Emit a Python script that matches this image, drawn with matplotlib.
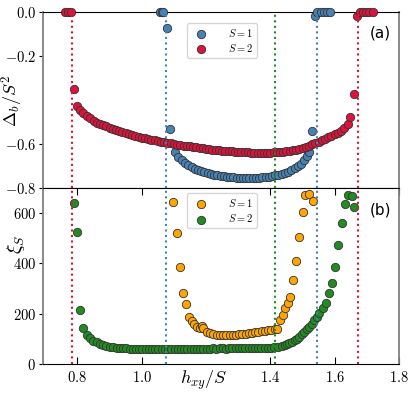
import matplotlib
matplotlib.use("Agg")
import matplotlib.pyplot as plt

plt.rcParams["mathtext.fontset"] = "cm"

# panel (a): Delta_b / S^2
h_a1 = [1.057, 1.062, 1.067, 1.080, 1.088, 1.104, 1.114, 1.125, 1.135, 1.145,
        1.155, 1.165, 1.175, 1.185, 1.195, 1.205, 1.215, 1.225, 1.235, 1.245,
        1.255, 1.265, 1.275, 1.285, 1.295, 1.305, 1.315, 1.325, 1.335, 1.345,
        1.355, 1.365, 1.375, 1.385, 1.395, 1.405, 1.415, 1.425, 1.435, 1.445,
        1.455, 1.465, 1.475, 1.485, 1.495, 1.505, 1.514, 1.521, 1.530, 1.540,
        1.546, 1.556, 1.566, 1.576, 1.586]
d_a1 = [0.0, 0.0, 0.0, -0.074, -0.533, -0.635, -0.657, -0.673, -0.686, -0.696,
        -0.705, -0.712, -0.718, -0.723, -0.727, -0.731, -0.735, -0.739, -0.742, -0.745,
        -0.747, -0.749, -0.751, -0.752, -0.753, -0.754, -0.755, -0.756, -0.756, -0.756,
        -0.755, -0.754, -0.752, -0.750, -0.748, -0.746, -0.743, -0.740, -0.736, -0.731,
        -0.725, -0.718, -0.710, -0.701, -0.689, -0.674, -0.656, -0.636, -0.540, -0.017,
        0.0, 0.0, 0.0, 0.0, 0.0]

h_a2 = [0.761, 0.771, 0.779, 0.789, 0.799, 0.808, 0.818, 0.829,
        0.84, 0.85, 0.86, 0.87, 0.88, 0.89, 0.90, 0.91, 0.92, 0.93,
        0.94, 0.95, 0.96, 0.97, 0.98, 0.99, 1.00, 1.01, 1.02, 1.03,
        1.04, 1.05, 1.06, 1.07, 1.08, 1.09, 1.10, 1.11, 1.12, 1.13,
        1.14, 1.15, 1.16, 1.17, 1.18, 1.19, 1.20, 1.21, 1.22, 1.23,
        1.24, 1.25, 1.26, 1.27, 1.28, 1.29, 1.30, 1.31, 1.32, 1.33,
        1.34, 1.35, 1.36, 1.37, 1.38, 1.39, 1.40, 1.41, 1.42, 1.43,
        1.44, 1.45, 1.46, 1.47, 1.48, 1.49, 1.50, 1.51, 1.52, 1.53,
        1.54, 1.55, 1.56, 1.57, 1.58, 1.59, 1.60, 1.61, 1.62, 1.63,
        1.64, 1.649, 1.659, 1.670, 1.678, 1.688, 1.698, 1.708, 1.718]
d_a2 = [0.0, 0.0, 0.0, -0.350, -0.427, -0.445, -0.460, -0.473,
        -0.484, -0.494, -0.503, -0.509, -0.515, -0.520, -0.525, -0.530, -0.535, -0.540,
        -0.545, -0.550, -0.554, -0.559, -0.563, -0.567, -0.571, -0.574, -0.577, -0.580,
        -0.583, -0.586, -0.589, -0.592, -0.595, -0.597, -0.600, -0.603, -0.605, -0.607,
        -0.609, -0.611, -0.613, -0.615, -0.617, -0.619, -0.621, -0.623, -0.625, -0.627,
        -0.628, -0.630, -0.631, -0.633, -0.634, -0.635, -0.636, -0.637, -0.638, -0.638,
        -0.639, -0.639, -0.640, -0.640, -0.640, -0.639, -0.639, -0.638, -0.637, -0.636,
        -0.635, -0.634, -0.632, -0.629, -0.626, -0.622, -0.617, -0.612, -0.607, -0.602,
        -0.596, -0.590, -0.584, -0.577, -0.570, -0.563, -0.556, -0.549, -0.541, -0.528,
        -0.508, -0.479, -0.374, -0.018, 0.0, 0.0, 0.0, 0.0, 0.0]

# panel (b): xi_S
h_b1 = [1.098, 1.110, 1.120, 1.128, 1.138, 1.148, 1.156, 1.164, 1.171, 1.180,
        1.187, 1.192, 1.202, 1.213, 1.223, 1.233, 1.243, 1.253, 1.263, 1.273,
        1.283, 1.293, 1.303, 1.313, 1.323, 1.333, 1.343, 1.353, 1.363, 1.373,
        1.383, 1.393, 1.403, 1.413, 1.422, 1.431, 1.438, 1.446, 1.454, 1.460,
        1.469, 1.480, 1.490, 1.500, 1.509, 1.519, 1.531]
xi_1 = [644, 522, 387, 284, 237, 188, 172, 159, 148, 145,
        152, 142, 128, 122, 119, 117, 116, 115, 115, 116,
        116, 117, 118, 119, 120, 122, 124, 126, 128, 130,
        133, 135, 137, 140, 138, 175, 195, 221, 241, 268,
        334, 411, 504, 606, 672, 676, 650]

h_b2 = [0.789, 0.798, 0.808, 0.818, 0.829, 0.839, 0.849, 0.860, 0.870, 0.880,
        0.890, 0.901, 0.911, 0.922, 0.932, 0.942, 0.952, 0.962, 0.972, 0.982,
        0.992, 1.002, 1.012, 1.022, 1.032, 1.042, 1.052, 1.062, 1.072, 1.082,
        1.092, 1.102, 1.112, 1.122, 1.132, 1.142, 1.152, 1.162, 1.172, 1.182,
        1.192, 1.202, 1.212, 1.222, 1.232, 1.242, 1.252, 1.262, 1.272, 1.282,
        1.292, 1.302, 1.312, 1.322, 1.332, 1.342, 1.352, 1.362, 1.372, 1.382,
        1.392, 1.402, 1.412, 1.425, 1.435, 1.444, 1.452, 1.459, 1.467, 1.475,
        1.482, 1.490, 1.498, 1.506, 1.514, 1.521, 1.529, 1.537, 1.545, 1.552,
        1.563, 1.573, 1.581, 1.592, 1.602, 1.609, 1.623, 1.632, 1.640, 1.653,
        1.661]
xi_2 = [641, 526, 215, 144, 115, 102, 93, 86, 80, 75,
        72, 69, 67, 65, 64, 63, 62, 61, 61, 60,
        60, 60, 59, 59, 59, 59, 59, 59, 60, 59,
        60, 60, 59, 60, 60, 61, 60, 61, 60, 61,
        61, 60, 61, 62, 61, 62, 62, 61, 62, 63,
        62, 63, 63, 62, 63, 64, 63, 64, 64, 63,
        64, 65, 66, 69, 72, 76, 79, 82, 88, 95,
        101, 109, 118, 128, 138, 148, 160, 175, 188, 202,
        221, 244, 281, 323, 387, 473, 562, 636, 672, 669,
        626]

# critical fields (dotted lines)
h_crit = [0.782, 1.076, 1.414, 1.545, 1.673]
c_crit = ["crimson", "steelblue", "forestgreen", "steelblue", "crimson"]

fig = plt.figure(figsize=(4.16, 3.97), dpi=100)
ax1 = fig.add_axes([0.1034, 0.5264, 0.8558, 0.4434])
ax2 = fig.add_axes([0.1034, 0.0831, 0.8558, 0.4433])

mk = dict(s=36, edgecolors="#333333", linewidths=0.6, zorder=3)
ax1.scatter(h_a1, d_a1, color="#4682b4", label=r"$S = 1$", clip_on=False, **mk)
ax1.scatter(h_a2, d_a2, color="crimson", label=r"$S = 2$", clip_on=False, **mk)
ax2.scatter(h_b1, xi_1, color="orange", label=r"$S = 1$", **mk)
ax2.scatter(h_b2, xi_2, color="forestgreen", label=r"$S = 2$", **mk)

for ax in (ax1, ax2):
    for h, c in zip(h_crit, c_crit):
        ax.axvline(h, color=c, ls=":", lw=1.5, zorder=4)
    ax.set_xlim(0.693, 1.8)
    ax.spines["left"].set_color("gray")
    ax.spines["right"].set_color("gray")
    ax.spines["left"].set_linewidth(1.3)
    ax.spines["right"].set_linewidth(1.3)
    ax.tick_params(axis="y", direction="out", length=3, pad=2, labelsize=10.5)

ax1.legend(loc="upper center", bbox_to_anchor=(0.503, 0.94), fontsize=7.5,
           handletextpad=1.6, borderaxespad=0, labelspacing=0.3)
ax2.legend(loc="upper center", bbox_to_anchor=(0.503, 0.972), fontsize=7.5,
           handletextpad=1.6, borderaxespad=0, labelspacing=0.3)

ax1.set_ylim(-0.8, 0.0)
ax1.set_yticks([0.0, -0.2, -0.6, -0.8])
ax1.set_yticklabels([r"$0.0$", r"$-0.2$", r"$-0.6$", r"$-0.8$"])
ax1.tick_params(axis="x", bottom=False, labelbottom=False)
ax1.set_ylabel(r"$\Delta_b/S^2$", fontsize=13)
ax1.yaxis.set_label_coords(-0.05, 0.494)
ax1.text(0.947, 0.88, "(a)", transform=ax1.transAxes, fontsize=11,
         ha="center", va="center")

ax2.set_ylim(0, 700)
ax2.set_yticks([0, 200, 400, 600])
ax2.set_yticklabels([r"$0$", r"$200$", r"$400$", r"$600$"])
ax2.set_xticks([0.8, 1.0, 1.4, 1.6, 1.8])
ax2.set_xticklabels([r"$0.8$", r"$1.0$", r"$1.4$", r"$1.6$", r"$1.8$"])
ax2.tick_params(axis="x", direction="in", top=True, length=5, pad=4, labelsize=10.5)
ax2.set_ylabel(r"$\xi_S$", fontsize=14)
ax2.yaxis.set_label_coords(-0.045, 0.68)
ax2.set_xlabel(r"$h_{xy}/S$", fontsize=13)
ax2.xaxis.set_label_coords(0.452, -0.025)
ax2.text(0.947, 0.875, "(b)", transform=ax2.transAxes, fontsize=11,
         ha="center", va="center")

plt.savefig("out.png", dpi=100)
